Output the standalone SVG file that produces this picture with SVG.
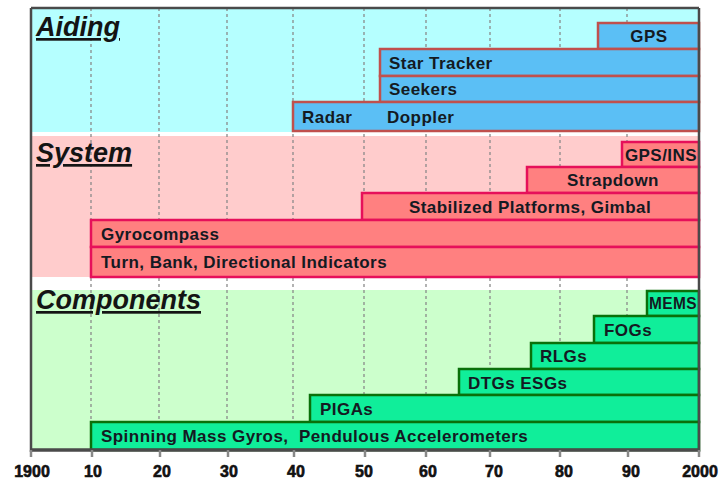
<svg xmlns="http://www.w3.org/2000/svg" width="719" height="481" viewBox="0 0 719 481">
<style>
.bg-a{fill:#b5ffff}
.bg-s{fill:#ffcccc}
.bg-c{fill:#ccffcc}
.grid{stroke:#8a8a8a;stroke-width:1.3;stroke-dasharray:3 3;fill:none}
.frame{stroke:#4a4a4a;stroke-width:2.5;fill:none}
.ba{fill:#5bbff5;stroke:#c0504d;stroke-width:2.5}
.bs{fill:#ff8080;stroke:#e6105a;stroke-width:2.5}
.bc{fill:#10ee9a;stroke:#0a700a;stroke-width:2.5}
.lbl{font-family:"Liberation Sans",Arial,sans-serif;font-weight:bold;font-size:17px;letter-spacing:0.45px;fill:#141a22}
.title{font-family:"Liberation Sans",Arial,sans-serif;font-weight:bold;font-style:italic;font-size:27px;fill:#141414;text-decoration:underline}
.tick{font-family:"Liberation Sans",Arial,sans-serif;font-weight:bold;font-size:16px;fill:#111;text-anchor:middle;stroke:#111;stroke-width:0.6}
.tk{stroke:#888;stroke-width:2.5}
</style>
<rect width="719" height="481" fill="#ffffff"/>
<g id="backgrounds">
<rect class="bg-a" x="31" y="8" width="668" height="124"/>
<rect class="bg-s" x="31" y="136" width="668" height="141"/>
<rect class="bg-c" x="31" y="290" width="668" height="160"/>
</g>
<g id="gridlines">
<line class="grid" x1="91" y1="8" x2="91" y2="450"/>
<line class="grid" x1="159" y1="8" x2="159" y2="450"/>
<line class="grid" x1="227" y1="8" x2="227" y2="450"/>
<line class="grid" x1="293" y1="8" x2="293" y2="450"/>
<line class="grid" x1="364" y1="8" x2="364" y2="450"/>
<line class="grid" x1="426" y1="8" x2="426" y2="450"/>
<line class="grid" x1="490" y1="8" x2="490" y2="450"/>
<line class="grid" x1="560" y1="8" x2="560" y2="450"/>
<line class="grid" x1="627" y1="8" x2="627" y2="450"/>
</g>
<g id="titles">
<text class="title" x="36" y="36">Aiding</text>
<text class="title" x="36" y="162">System</text>
<text class="title" x="36" y="309">Components</text>
</g>
<g id="aiding">
<g id="gps"><rect class="ba" x="598" y="23" width="101" height="26"/><text class="lbl" x="649" y="42" text-anchor="middle">GPS</text></g>
<g id="star-tracker"><rect class="ba" x="380" y="49" width="319" height="27"/><text class="lbl" x="389" y="69">Star Tracker</text></g>
<g id="seekers"><rect class="ba" x="380" y="76" width="319" height="26"/><text class="lbl" x="389" y="95">Seekers</text></g>
<g id="radar-doppler"><rect class="ba" x="293" y="102" width="406" height="29"/><text class="lbl" x="302" y="123">Radar</text><text class="lbl" x="387" y="123">Doppler</text></g>
</g>
<g id="system">
<g id="gps-ins"><rect class="bs" x="622" y="142" width="77" height="25"/><text class="lbl" x="697" y="161" text-anchor="end" letter-spacing="0">GPS/INS</text></g>
<g id="strapdown"><rect class="bs" x="527" y="167" width="172" height="26"/><text class="lbl" x="613" y="186" text-anchor="middle">Strapdown</text></g>
<g id="stabilized"><rect class="bs" x="362" y="193" width="337" height="27"/><text class="lbl" x="530" y="213" text-anchor="middle">Stabilized Platforms, Gimbal</text></g>
<g id="gyrocompass"><rect class="bs" x="91" y="220" width="608" height="27"/><text class="lbl" x="101" y="240">Gyrocompass</text></g>
<g id="turn-bank"><rect class="bs" x="91" y="247" width="608" height="30"/><text class="lbl" x="101" y="268">Turn, Bank, Directional Indicators</text></g>
</g>
<g id="components">
<g id="mems"><rect class="bc" x="647" y="291" width="52" height="25"/><text class="lbl" x="673" y="309" text-anchor="middle" textLength="48" lengthAdjust="spacingAndGlyphs" letter-spacing="0">MEMS</text></g>
<g id="fogs"><rect class="bc" x="594" y="316" width="105" height="27"/><text class="lbl" x="604" y="336">FOGs</text></g>
<g id="rlgs"><rect class="bc" x="531" y="343" width="168" height="26"/><text class="lbl" x="540" y="362">RLGs</text></g>
<g id="dtgs"><rect class="bc" x="459" y="369" width="240" height="26"/><text class="lbl" x="468" y="389">DTGs ESGs</text></g>
<g id="pigas"><rect class="bc" x="310" y="395" width="389" height="27"/><text class="lbl" x="320" y="415">PIGAs</text></g>
<g id="spinning"><rect class="bc" x="91" y="422" width="608" height="28"/><text class="lbl" x="101" y="442" xml:space="preserve">Spinning Mass Gyros,  Pendulous Accelerometers</text></g>
</g>
<g id="connectors"></g>
<g id="axis">
<line class="frame" x1="31" y1="8" x2="699" y2="8"/>
<line class="frame" x1="31" y1="8" x2="31" y2="452"/>
<line class="frame" x1="699" y1="8" x2="699" y2="452"/>
<line x1="30" y1="450" x2="700" y2="450" stroke="#4a4a4a" stroke-width="3.5"/>
<line class="tk" x1="31" y1="450" x2="31" y2="457"/>
<line class="tk" x1="92" y1="450" x2="92" y2="457"/>
<line class="tk" x1="160" y1="450" x2="160" y2="457"/>
<line class="tk" x1="228" y1="450" x2="228" y2="457"/>
<line class="tk" x1="294" y1="450" x2="294" y2="457"/>
<line class="tk" x1="365" y1="450" x2="365" y2="457"/>
<line class="tk" x1="426" y1="450" x2="426" y2="457"/>
<line class="tk" x1="490" y1="450" x2="490" y2="457"/>
<line class="tk" x1="560" y1="450" x2="560" y2="457"/>
<line class="tk" x1="628" y1="450" x2="628" y2="457"/>
<line class="tk" x1="699" y1="450" x2="699" y2="457"/>
<text class="tick" x="32" y="477">1900</text>
<text class="tick" x="93" y="477">10</text>
<text class="tick" x="162" y="477">20</text>
<text class="tick" x="229" y="477">30</text>
<text class="tick" x="296" y="477">40</text>
<text class="tick" x="364" y="477">50</text>
<text class="tick" x="428" y="477">60</text>
<text class="tick" x="494" y="477">70</text>
<text class="tick" x="564" y="477">80</text>
<text class="tick" x="631" y="477">90</text>
<text class="tick" x="700" y="477">2000</text>
</g>
</svg>
